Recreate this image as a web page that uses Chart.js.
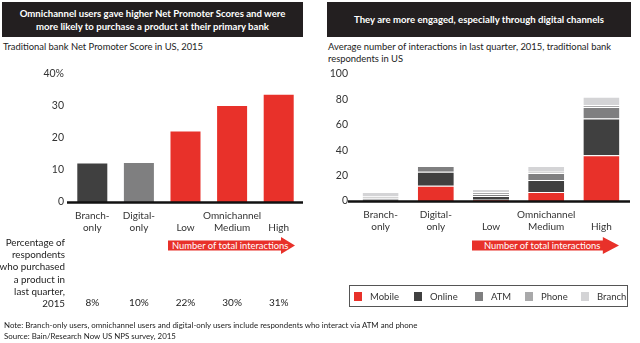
<!DOCTYPE html>
<html><head><meta charset="utf-8">
<script src="https://cdn.jsdelivr.net/npm/chart.js@4"></script>
<style>
html,body{margin:0;padding:0;background:#fff;}
body{width:640px;height:343px;position:relative;overflow:hidden;font-family:"Lato",sans-serif;color:#333;}
.abs{position:absolute;white-space:nowrap;}
.tbox{background:#231f20;color:#fff;font-weight:bold;font-size:9.6px;text-align:center;display:flex;align-items:center;justify-content:center;line-height:13px;}
.sub{font-size:9.4px;line-height:11.5px;color:#222;}
.arrow{background:#e8312a;color:#fff;font-size:9.4px;clip-path:polygon(0 20%,89% 20%,89% 0,100% 50%,89% 100%,89% 80%,0 80%);display:flex;align-items:center;}
.pct{font-size:9.8px;line-height:12.2px;text-align:right;color:#222;}
.note{font-size:7.9px;line-height:11px;color:#222;}
#legend{border:1px solid #555;display:flex;align-items:center;font-size:9.5px;}
#legend span.sw{display:inline-block;width:8px;height:9px;margin-right:8px;}
#legend .it{display:flex;align-items:center;}
canvas{position:absolute;}
</style></head><body>
<div class="abs tbox" style="left:2px;top:2px;width:301px;height:35px;">Omnichannel users gave higher Net Promoter Scores and were<br>more likely to purchase a product at their primary bank</div>
<div class="abs tbox" style="left:327px;top:2px;width:304px;height:35px;">They are more engaged, especially through digital channels</div>
<div class="abs sub" style="left:3px;top:41px;">Traditional bank Net Promoter Score in US, 2015</div>
<div class="abs sub" style="left:328px;top:41px;">Average number of interactions in last quarter, 2015, traditional bank<br>respondents in US</div>
<canvas id="c1" width="320" height="343" style="left:0;top:0;width:320px;height:343px;"></canvas>
<canvas id="c2" width="320" height="343" style="left:320px;top:0;width:320px;height:343px;"></canvas>
<div class="abs arrow" style="left:168px;top:237px;width:127px;height:17px;"><span style="padding-left:4px">Number of total interactions</span></div>
<div class="abs arrow" style="left:472px;top:237px;width:147px;height:17px;"><span style="padding-left:12px">Number of total interactions</span></div>
<div class="abs pct" style="right:575px;top:236px;">Percentage of<br>respondents<br>who purchased<br>a product in<br>last quarter,<br>2015</div>
<div id="legend" class="abs" style="left:349px;top:285px;width:277px;height:20px;"></div>
<div class="abs note" style="left:4px;top:320px;">Note: Branch-only users, omnichannel users and digital-only users include respondents who interact via ATM and phone<br>Source: Bain/Research Now US NPS survey, 2015</div>
<script>
const categories = [["Branch-","only"],["Digital-","only"],["","Low"],["Omnichannel","Medium"],["","High"]];
const npsValues = [12, 12.2, 22, 30, 33.5];
const purchasePct = ["8%","10%","22%","30%","31%"];
const npsTicks = [0,10,20,30,40];
const seriesNames = ["Mobile","Online","ATM","Phone","Branch"];
const mobile = [0, 12, 1, 7, 36];
const online = [0, 11, 3, 9.5, 29];
const atm = [2, 4.5, 1.5, 5.5, 9];
const phone = [1.5, 0, 1.5, 1, 1.5];
const branch = [3.5, 0, 2.5, 4.5, 6.5];
const interactionTicks = [0,20,40,60,80,100];

const RED="#e8312a", DARK="#404040", MID="#7f7f80", LIGHT="#a9a9aa", PALE="#d4d4d6";
const seriesColors=[RED,DARK,MID,LIGHT,PALE];
const FONT="Lato";

const baseline = {id:'baseline',afterDatasetsDraw(chart,args,opts){
  const {ctx,chartArea:a}=chart; ctx.save(); ctx.strokeStyle='#111'; ctx.lineWidth=2.5;
  ctx.beginPath(); ctx.moveTo(a.left-opts.ext,a.bottom+0.5); ctx.lineTo(a.right+1,a.bottom+0.5); ctx.stroke(); ctx.restore();}};
const pctRow = {id:'pctRow',afterDraw(chart){
  const {ctx}=chart; const xs=chart.scales.x; ctx.save(); ctx.fillStyle='#222';
  ctx.font='10px '+FONT; ctx.textAlign='center'; ctx.textBaseline='middle';
  purchasePct.forEach((t,i)=>ctx.fillText(t,xs.getPixelForValue(i),303)); ctx.restore();}};

function xAxis(){return {grid:{display:false,drawTicks:false},border:{display:false},
  ticks:{color:'#333',font:{family:FONT,size:10},padding:8,maxRotation:0,autoSkip:false},
  afterFit(s){s.height=40;}};}
function yAxis(w,ticks,fmt){return {min:0,max:ticks[ticks.length-1],grid:{display:false,drawTicks:false},border:{display:false},
  afterBuildTicks(s){s.ticks=ticks.map(v=>({value:v}));},
  ticks:{color:'#333',font:{family:FONT,size:10.5},padding:5,callback:fmt},
  afterFit(s){s.width=w;}};}

new Chart(document.getElementById('c1'),{type:'bar',
  data:{labels:categories,datasets:[{data:npsValues,
    backgroundColor:[DARK,MID,RED,RED,RED],barPercentage:0.644,categoryPercentage:1}]},
  options:{responsive:false,animation:false,devicePixelRatio:1,
    layout:{padding:{left:0,right:18,top:74,bottom:101}},
    plugins:{legend:{display:false},tooltip:{enabled:false},baseline:{ext:2}},
    scales:{x:xAxis(),y:yAxis(69,npsTicks,v=>v===40?'40%':v)}},
  plugins:[baseline,pctRow]});

const stackData=[mobile,online,atm,phone,branch];
new Chart(document.getElementById('c2'),{type:'bar',
  data:{labels:categories,datasets:stackData.map((d,i)=>({label:seriesNames[i],data:d,backgroundColor:seriesColors[i],
    borderColor:'#fff',borderWidth:{top:1,bottom:0,left:0,right:0},borderSkipped:false,
    barPercentage:0.652,categoryPercentage:1}))},
  options:{responsive:false,animation:false,devicePixelRatio:1,
    layout:{padding:{left:0,right:11,top:74,bottom:102}},
    plugins:{legend:{display:false},tooltip:{enabled:false},baseline:{ext:5}},
    scales:{x:Object.assign(xAxis(),{stacked:true}),y:Object.assign(yAxis(33,interactionTicks,v=>v),{stacked:true})}},
  plugins:[baseline]});

const lg=document.getElementById('legend');
const lgLeft=[4,64,125,175,231];
seriesNames.forEach((n,i)=>{const d=document.createElement('div');d.className='it abs';
  d.style.left=lgLeft[i]+'px';d.style.top='5px';
  d.innerHTML='<span class="sw" style="background:'+seriesColors[i]+'"></span>'+n;lg.appendChild(d);});
</script>
</body></html>
